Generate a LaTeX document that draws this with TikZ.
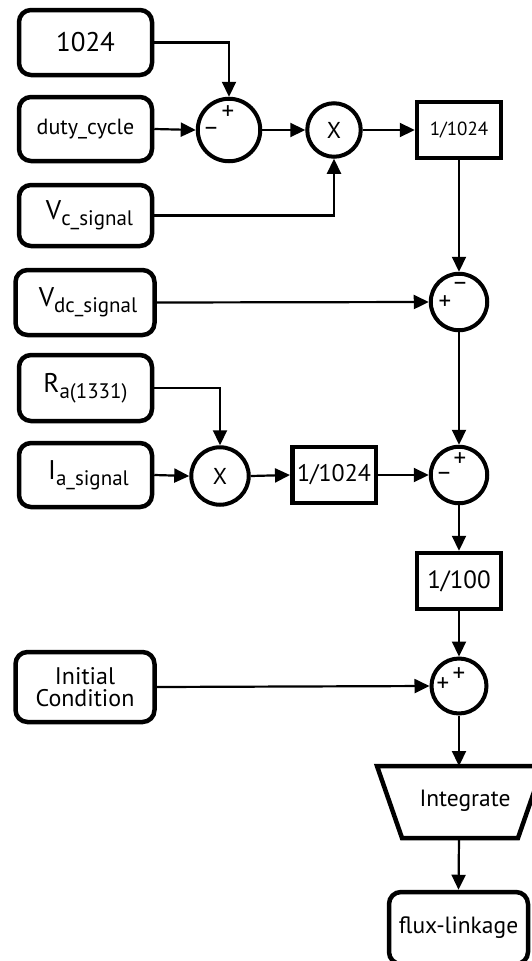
\documentclass[tikz,border=0pt]{standalone}
\usepackage{fontspec}
\setmainfont{PT Sans}
\usetikzlibrary{arrows.meta}
\newcommand{\fs}[1]{\fontsize{#1}{#1}\selectfont}
\newcommand{\subtxt}[1]{\raisebox{-6pt}{\fs{21}#1}}
\begin{document}
\begin{tikzpicture}[x=1pt,y=-1pt,
  rbox/.style={draw, line width=4.5pt, rounded corners=12pt, inner sep=0pt, minimum width=133pt},
  gbox/.style={draw, line width=4.5pt, inner sep=0pt, minimum width=84pt, minimum height=56pt},
  sumc/.style={draw, circle, line width=4pt, inner sep=0pt},
  conn/.style={line width=2.2pt, -{Triangle[length=15pt,width=14pt]}},
  sgn/.style={font=\fs{25}, inner sep=0pt}]
\useasboundingbox (0,0) rectangle (531,961);
% left column boxes
\node[rbox, minimum height=65pt] (b1024) at (85.5,42.5) {\fs{27}1024};
\node[rbox, minimum height=64pt] (duty) at (85.5,129) {\fs{22}duty\_cycle};
\node[rbox, minimum height=61pt] (vc) at (85.5,215.5) {\hspace*{8pt}\fs{27}V\subtxt{c\_signal}};
\node[rbox, minimum width=139pt, minimum height=65pt] (vdc) at (85,302.5) {\hspace*{6pt}\fs{27}V\subtxt{dc\_signal}};
\node[rbox, minimum height=66pt] (ra) at (85.5,388) {\fs{27}R\subtxt{a(1331)}};
\node[rbox, minimum height=64pt] (ia) at (85.5,475) {\hspace*{6pt}\fs{27}I\subtxt{a\_signal}};
\node[rbox, minimum width=139pt, minimum height=70pt, align=center, font=\fs{24}] (ic) at (85,687) {Initial\\[-2pt]Condition};
% circles
\node[sumc, minimum size=62.5pt] (s1) at (229,130) {};
\node[sumc, minimum size=53.5pt] (m1) at (334,130) {\fs{23}X};
\node[sumc, minimum size=56.5pt] (s2) at (459,302) {};
\node[sumc, minimum size=57.5pt] (m2) at (220,476) {\fs{23}X};
\node[sumc, minimum size=56.5pt] (s3) at (459,475) {};
\node[sumc, minimum size=55pt] (s4) at (459,686) {};
% gain boxes
\node[gbox] (g1) at (459,130) {\fs{19}1/1024};
\node[gbox, minimum width=83.5pt] (g2) at (334,475) {\fs{24}1/1024};
\node[gbox] (g3) at (459,581) {\fs{25}1/100};
% signs
\node[sgn] (s1p) at ([shift={(-1,-17)}]s1.center) {+};
\node[sgn] (s1m) at ([shift={(-18,1)}]s1.center) {–};
\node[sgn] (s2m) at ([shift={(1,-16)}]s2.center) {–};
\node[sgn] (s2p) at ([shift={(-14,1)}]s2.center) {+};
\node[sgn] (s3p) at ([shift={(1,-15)}]s3.center) {+};
\node[sgn] (s3m) at ([shift={(-15,1)}]s3.center) {–};
\node[sgn] (s4p) at ([shift={(0,-11)}]s4.center) {+};
\node[sgn] (s4q) at ([shift={(-16,-1)}]s4.center) {+};
% integrator
\coordinate (itl) at (377,766);
\coordinate (itr) at (543,766);
\coordinate (ibr) at (518,838);
\coordinate (ibl) at (402,838);
\draw[line width=4.5pt, line join=miter] (itl) -- (itr) -- (ibr) -- (ibl) -- cycle;
\coordinate (itop) at (459,766);
\coordinate (ibot) at (459,838);
\node[font=\fs{23.5}] (integ) at (465,801) {Integrate};
% output
\node[rbox, minimum width=139pt, minimum height=72pt] (flux) at (458.5,928) {\fs{23.5}flux-linkage};
% connectors
\draw[conn] (b1024.east) -| (s1.north);
\draw[conn] (duty.east) -- (s1.west);
\draw[conn] (s1.east) -- (m1.west);
\draw[conn] (vc.east) -| (m1.south);
\draw[conn] (m1.east) -- (g1.west);
\draw[conn] (g1.south) -- (s2.north);
\draw[conn] (vdc.east) -- (s2.west);
\draw[conn] (s2.south) -- (s3.north);
\draw[conn] (ra.east) -| (m2.north);
\draw[conn] (ia.east) -- (m2.west);
\draw[conn] (m2.east) -- (g2.west);
\draw[conn] (g2.east) -- (s3.west);
\draw[conn] (s3.south) -- (g3.north);
\draw[conn] (g3.south) -- (s4.north);
\draw[conn] (ic.east) -- (s4.west);
\draw[conn] (s4.south) -- (itop);
\draw[conn] (ibot) -- (flux.north);
\end{tikzpicture}
\end{document}
